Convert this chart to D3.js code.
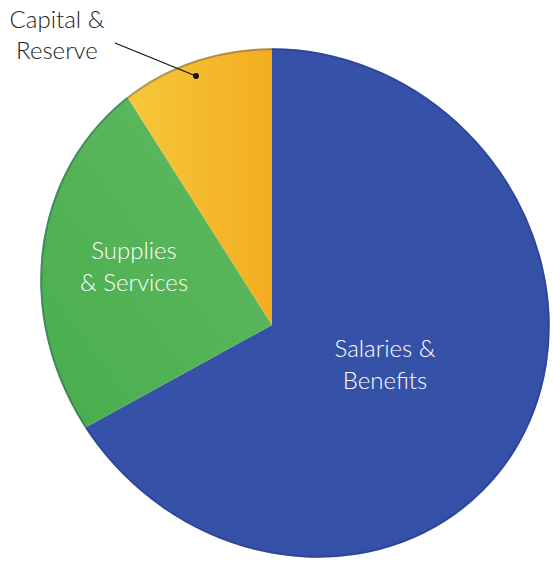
<!DOCTYPE html>
<html>
<head>
<meta charset="utf-8">
<script src="https://cdn.jsdelivr.net/npm/d3@7"></script>
<style>
  body { margin: 0; background: #fff; }
  text { font-family: Lato, "Noto Sans", sans-serif; font-weight: 300; }
</style>
</head>
<body>
<div id="chart"></div>
<script>
// budget shares
var categories = ["Salaries & Benefits", "Supplies & Services", "Capital & Reserve"];
var shares = [67, 24, 9];
var labelLines = [["Salaries &", "Benefits"], ["Supplies", "& Services"], ["Capital &", "Reserve"]];

var width = 553, height = 561;

var svg = d3.select("#chart")
  .append("svg")
  .attr("width", width)
  .attr("height", height);

// the photo is a tilted pie: the disc is a slightly rotated ellipse
// and the slice apex sits off its centre
var disc = { x: 295, y: 303, rx: 266, ry: 243, rot: 45 };
var apex = { x: 272, y: 325 };

var defs = svg.append("defs");
defs.append("clipPath").attr("id", "disc")
  .append("ellipse")
  .attr("transform", "translate(" + disc.x + "," + disc.y + ") rotate(" + disc.rot + ")")
  .attr("rx", disc.rx).attr("ry", disc.ry);

var grads = [
  { id: "g-blue", x1: 0, y1: 0, x2: 1, y2: 1, stops: ["#3652aa", "#3450a6"] },
  { id: "g-green", x1: 1, y1: 0, x2: 0, y2: 1, stops: ["#66bd64", "#3aa643"] },
  { id: "g-yellow", x1: 0, y1: 0, x2: 1, y2: 0, stops: ["#f8d64a", "#f3ad20"] }
];
grads.forEach(function(g) {
  var lg = defs.append("linearGradient").attr("id", g.id)
    .attr("x1", g.x1).attr("y1", g.y1).attr("x2", g.x2).attr("y2", g.y2);
  lg.append("stop").attr("offset", "0%").attr("stop-color", g.stops[0]);
  lg.append("stop").attr("offset", "100%").attr("stop-color", g.stops[1]);
});

var color = d3.scaleOrdinal()
  .domain(categories)
  .range(["url(#g-blue)", "url(#g-green)", "url(#g-yellow)"]);

var pie = d3.pie().sort(null).value(function(d) { return d; });
var arcs = pie(shares);

var arc = d3.arc().innerRadius(0).outerRadius(420);

var g = svg.append("g").attr("clip-path", "url(#disc)");
g.selectAll("path.slice")
  .data(arcs)
  .enter()
  .append("path")
  .attr("class", "slice")
  .attr("transform", "translate(" + apex.x + "," + apex.y + ")")
  .attr("d", arc)
  .attr("fill", function(d, i) { return color(categories[i]); });

// soft rim
svg.append("ellipse")
  .attr("transform", "translate(" + disc.x + "," + disc.y + ") rotate(" + disc.rot + ")")
  .attr("rx", disc.rx - 1).attr("ry", disc.ry - 1)
  .attr("fill", "none")
  .attr("stroke", "#1e2f78")
  .attr("stroke-opacity", 0.3)
  .attr("stroke-width", 2);

// inside labels
var insidePos = [[385, 357], [134, 259]];
insidePos.forEach(function(p, i) {
  var t = svg.append("text")
    .attr("x", p[0]).attr("y", p[1])
    .attr("text-anchor", "middle")
    .attr("fill", "#ffffff")
    .attr("font-size", "24px");
  labelLines[i].forEach(function(line, j) {
    t.append("tspan").attr("x", p[0]).attr("dy", j === 0 ? 0 : 32).text(line);
  });
});

// outside label with leader
var out = svg.append("text")
  .attr("x", 57).attr("y", 28)
  .attr("text-anchor", "middle")
  .attr("fill", "#222")
  .attr("font-size", "24px");
labelLines[2].forEach(function(line, j) {
  out.append("tspan").attr("x", 57).attr("dy", j === 0 ? 0 : 31).text(line);
});

svg.append("line")
  .attr("x1", 115).attr("y1", 43)
  .attr("x2", 196).attr("y2", 76)
  .attr("stroke", "#111").attr("stroke-width", 1.3);
svg.append("circle")
  .attr("cx", 196).attr("cy", 76).attr("r", 3)
  .attr("fill", "#111");
</script>
</body>
</html>
